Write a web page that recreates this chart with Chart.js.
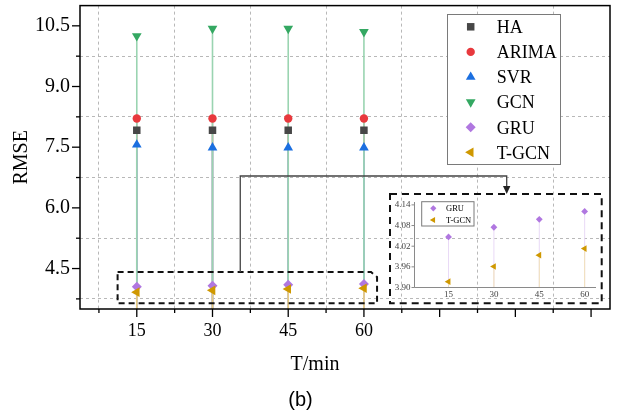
<!DOCTYPE html>
<html>
<head>
<meta charset="utf-8">
<script src="https://cdn.jsdelivr.net/npm/chart.js@4.4.0/dist/chart.umd.min.js"></script>
<style>
html, body { margin: 0; padding: 0; background: #fff; }
#quadro { position: relative; width: 620px; height: 414px; }
#quadro canvas { position: absolute; left: 0; top: 0; }
</style>
</head>
<body>
<div id="quadro">
<canvas id="grafico" width="620" height="414"></canvas>
<canvas id="detalhe" width="620" height="414"></canvas>
</div>
<script>
// dados (RMSE por horizonte)
const periodos = [15, 30, 45, 60];
const rmseHA = [7.92, 7.92, 7.92, 7.92];
const rmseARIMA = [8.21, 8.21, 8.21, 8.21];
const rmseSVR = [7.56, 7.49, 7.49, 7.49];
const rmseGCN = [10.25, 10.43, 10.43, 10.35];
const rmseGRU = [4.047, 4.075, 4.098, 4.121];
const rmseTGCN = [3.917, 3.961, 3.994, 4.013];

const xTicks = [7.5, 15, 22.5, 30, 37.5, 45, 52.5, 60, 67.5, 75, 82.5, 90, 97.5, 105];
const xRotulos = [15, 30, 45, 60];
const yTicks = [3.75, 4.5, 5.25, 6.0, 6.75, 7.5, 8.25, 9.0, 9.75, 10.5];
const yRotulos = [4.5, 6.0, 7.5, 9.0, 10.5];
const detalheYTicks = [3.90, 3.96, 4.02, 4.08, 4.14];
const detalheXTicks = [15, 30, 45, 60];

const SERIES = [
    { nome: "HA", valores: rmseHA, cor: "#474747", estilo: "rect", raio: 5.3, rot: 0 },
    { nome: "ARIMA", valores: rmseARIMA, cor: "#e8393d", estilo: "circle", raio: 4.2, rot: 0 },
    { nome: "SVR", valores: rmseSVR, cor: "#1b6fe0", estilo: "triangle", raio: 5.6, rot: 0 },
    { nome: "GCN", valores: rmseGCN, cor: "#34a862", estilo: "triangle", raio: 5.6, rot: 180 },
    { nome: "GRU", valores: rmseGRU, cor: "#b077e0", estilo: "rectRot", raio: 5, rot: 0 },
    { nome: "T-GCN", valores: rmseTGCN, cor: "#cf9800", estilo: "triangle", raio: 5.6, rot: -90 }
];

const SERIF = "'Liberation Serif', 'Times New Roman', serif";

// mistura a cor com branco (haste opaca e clara)
function clarear(hex, f) {
    const n = parseInt(hex.slice(1), 16);
    const m = (c) => Math.round(c + (255 - c) * f);
    return `rgb(${m(n >> 16)}, ${m((n >> 8) & 255)}, ${m(n & 255)})`;
}

function criarDatasets(lista, escala) {
    return lista.map((s, i) => ({
        label: s.nome,
        data: periodos.map((p, k) => ({ x: p, y: s.valores[k] })),
        backgroundColor: s.cor,
        borderColor: s.cor,
        pointStyle: s.estilo,
        pointRadius: s.raio * escala,
        pointRotation: s.rot,
        pointBorderWidth: 0,
        pointHoverRadius: s.raio * escala,
        showLine: false,
        order: lista.length - i,
        corHaste: s.cor
    }));
}

function semFolga(s) {
    s.paddingTop = 0;
    s.paddingBottom = 0;
    s.paddingLeft = 0;
    s.paddingRight = 0;
}

function desenharLegenda(ctx, caixa, lista, escala, fonte) {
    ctx.save();
    ctx.fillStyle = "#fff";
    ctx.fillRect(caixa.x, caixa.y, caixa.w, caixa.h);
    ctx.strokeStyle = "#7a7a7a";
    ctx.lineWidth = 1;
    ctx.strokeRect(caixa.x, caixa.y, caixa.w, caixa.h);
    ctx.font = fonte;
    ctx.textAlign = "left";
    ctx.textBaseline = "alphabetic";
    lista.forEach((s, i) => {
        const y = caixa.linha0 + i * caixa.passo;
        ctx.fillStyle = s.cor;
        Chart.helpers.drawPoint(ctx, { pointStyle: s.estilo, radius: s.raio * escala, rotation: s.rot, borderWidth: 0 }, caixa.mx, y);
        ctx.fillStyle = "#000";
        ctx.fillText(s.nome, caixa.tx, y + caixa.base);
    });
    ctx.restore();
}

// hastes verticais de cada ponto até o eixo x
const hastes = {
    id: "hastes",
    beforeDatasetsDraw(chart, args, opts) {
        const ctx = chart.ctx, area = chart.chartArea;
        ctx.save();
        ctx.beginPath();
        ctx.rect(area.left, area.top, area.right - area.left, area.bottom - area.top);
        ctx.clip();
        ctx.lineWidth = opts.largura;
        chart.data.datasets.forEach((ds, i) => {
            ctx.strokeStyle = clarear(ds.corHaste, opts.claro);
            chart.getDatasetMeta(i).data.forEach((p) => {
                ctx.beginPath();
                ctx.moveTo(p.x, p.y);
                ctx.lineTo(p.x, area.bottom);
                ctx.stroke();
            });
        });
        ctx.restore();
    }
};

const moldura = {
    id: "moldura",
    afterDraw(chart) {
        const ctx = chart.ctx, area = chart.chartArea;
        const sx = chart.scales.x, sy = chart.scales.y;
        ctx.save();
        ctx.strokeStyle = "#000";
        ctx.lineWidth = 1.5;
        ctx.strokeRect(area.left, area.top, area.right - area.left, area.bottom - area.top);

        // marcas dos eixos
        ctx.lineWidth = 1.3;
        xTicks.forEach((v) => {
            const px = sx.getPixelForValue(v);
            const len = v % 15 === 0 ? 8 : 4;
            ctx.beginPath();
            ctx.moveTo(px, area.bottom);
            ctx.lineTo(px, area.bottom + len);
            ctx.stroke();
        });
        yTicks.forEach((v) => {
            const py = sy.getPixelForValue(v);
            const len = v % 1.5 === 0 ? 8 : 4;
            ctx.beginPath();
            ctx.moveTo(area.left, py);
            ctx.lineTo(area.left - len, py);
            ctx.stroke();
        });

        // títulos
        ctx.fillStyle = "#000";
        ctx.textAlign = "center";
        ctx.textBaseline = "alphabetic";
        ctx.font = "20px " + SERIF;
        ctx.fillText("T/min", 315, 370);
        ctx.save();
        ctx.translate(26.5, (area.top + area.bottom) / 2);
        ctx.rotate(-Math.PI / 2);
        ctx.fillText("RMSE", 0, 0);
        ctx.restore();
        ctx.font = "20px 'Liberation Sans', Arial, sans-serif";
        ctx.fillText("(b)", 300.5, 406);

        // caixa tracejada da região ampliada
        const bx0 = sx.getPixelForValue(11.2), bx1 = sx.getPixelForValue(62.6);
        const by0 = sy.getPixelForValue(4.414), by1 = sy.getPixelForValue(3.64);
        ctx.setLineDash([6, 4]);
        ctx.lineWidth = 2;
        ctx.strokeStyle = "#111";
        ctx.beginPath();
        ctx.moveTo(bx0, by0);
        ctx.lineTo(bx1 - 6, by0);
        ctx.lineTo(bx1, by0 + 5);
        ctx.lineTo(bx1, by1);
        ctx.lineTo(bx0, by1);
        ctx.closePath();
        ctx.stroke();
        ctx.setLineDash([7, 5]);
        ctx.strokeRect(390, 194, 211.7, 109.3);

        // ligação com seta
        ctx.setLineDash([]);
        ctx.lineWidth = 1.3;
        ctx.strokeStyle = "#444";
        const lx = sx.getPixelForValue(35.5);
        ctx.beginPath();
        ctx.moveTo(lx, by0);
        ctx.lineTo(lx, 176);
        ctx.lineTo(506.7, 176);
        ctx.lineTo(506.7, 187);
        ctx.stroke();
        ctx.fillStyle = "#222";
        ctx.beginPath();
        ctx.moveTo(503, 186);
        ctx.lineTo(510.4, 186);
        ctx.lineTo(506.7, 194);
        ctx.closePath();
        ctx.fill();
        ctx.restore();

        desenharLegenda(ctx, { x: 447.5, y: 14.5, w: 113, h: 150, mx: 470.7, tx: 496.7, linha0: 26.8, passo: 25.1, base: 6.3 },
            SERIES, 1, "18px " + SERIF);
    }
};

const __grafico = new Chart(document.getElementById("grafico"), {
    type: "scatter",
    data: { datasets: criarDatasets(SERIES, 1) },
    plugins: [hastes, moldura],
    options: {
        responsive: false,
        animation: false,
        layout: { padding: { left: 0, top: 3, right: 10, bottom: 0 } },
        plugins: {
            legend: { display: false },
            tooltip: { enabled: false },
            hastes: { largura: 1.6, claro: 0.5 }
        },
        scales: {
            x: {
                type: "linear",
                min: 3.75,
                max: 108.75,
                afterBuildTicks: (s) => { s.ticks = xTicks.map((v) => ({ value: v })); },
                afterFit: (s) => { s.height = 105; semFolga(s); },
                grid: {
                    drawTicks: false,
                    lineWidth: 1,
                    color: (c) => (c.tick && c.tick.value % 15 !== 0) ? "#b8b8b8" : "rgba(0,0,0,0)"
                },
                border: { display: false, dash: [3, 3] },
                ticks: {
                    autoSkip: false,
                    maxRotation: 0,
                    padding: 11,
                    color: "#000",
                    font: { family: SERIF, size: 18 },
                    callback: (v) => xRotulos.includes(v) ? String(v) : ""
                }
            },
            y: {
                type: "linear",
                min: 3.5,
                max: 11,
                afterBuildTicks: (s) => { s.ticks = yTicks.map((v) => ({ value: v })); },
                afterFit: (s) => { s.width = 80; semFolga(s); },
                grid: {
                    drawTicks: false,
                    lineWidth: 1,
                    color: (c) => (c.tick && c.tick.value % 1.5 !== 0) ? "#b8b8b8" : "rgba(0,0,0,0)"
                },
                border: { display: false, dash: [3, 3] },
                ticks: {
                    padding: 10,
                    color: "#000",
                    font: { family: SERIF, size: 20 },
                    callback: (v) => yRotulos.includes(v) ? v.toFixed(1) : ""
                }
            }
        }
    }
});

// detalhe ampliado de GRU e T-GCN
const SERIES_DETALHE = SERIES.slice(4);

const eixosDetalhe = {
    id: "eixosDetalhe",
    afterDraw(chart) {
        const ctx = chart.ctx, area = chart.chartArea;
        const sy = chart.scales.y;
        ctx.save();
        ctx.strokeStyle = "#8a8a8a";
        ctx.lineWidth = 1;
        ctx.beginPath();
        ctx.moveTo(area.left, area.top + 4);
        ctx.lineTo(area.left, area.bottom);
        ctx.lineTo(area.right, area.bottom);
        ctx.stroke();
        detalheYTicks.forEach((v) => {
            const py = sy.getPixelForValue(v);
            ctx.beginPath();
            ctx.moveTo(area.left, py);
            ctx.lineTo(area.left - 3, py);
            ctx.stroke();
        });
        ctx.restore();
        desenharLegenda(ctx, { x: 421.7, y: 201.7, w: 52.3, h: 24.3, mx: 433.3, tx: 446, linha0: 208.3, passo: 11.7, base: 2.9 },
            SERIES_DETALHE, 0.62, "8.5px " + SERIF);
    }
};

const __detalhe = new Chart(document.getElementById("detalhe"), {
    type: "scatter",
    data: { datasets: criarDatasets(SERIES_DETALHE, 0.68) },
    plugins: [hastes, eixosDetalhe],
    options: {
        responsive: false,
        animation: false,
        layout: { padding: { left: 384.5, top: 198, right: 24, bottom: 106.5 } },
        plugins: {
            legend: { display: false },
            tooltip: { enabled: false },
            hastes: { largura: 1, claro: 0.72 }
        },
        scales: {
            x: {
                type: "linear",
                min: 3.75,
                max: 63.75,
                afterBuildTicks: (s) => { s.ticks = detalheXTicks.map((v) => ({ value: v })); },
                afterFit: (s) => { s.height = 20; semFolga(s); },
                grid: { display: false, drawTicks: false },
                border: { display: false },
                ticks: { autoSkip: false, maxRotation: 0, padding: 2, color: "#444", font: { family: SERIF, size: 9 } }
            },
            y: {
                type: "linear",
                min: 3.9,
                max: 4.16,
                afterBuildTicks: (s) => { s.ticks = detalheYTicks.map((v) => ({ value: v })); },
                afterFit: (s) => { s.width = 30; semFolga(s); },
                grid: { display: false, drawTicks: false },
                border: { display: false },
                ticks: { padding: 4, color: "#444", font: { family: SERIF, size: 9 }, callback: (v) => v.toFixed(2) }
            }
        }
    }
});
</script>
</body>
</html>
